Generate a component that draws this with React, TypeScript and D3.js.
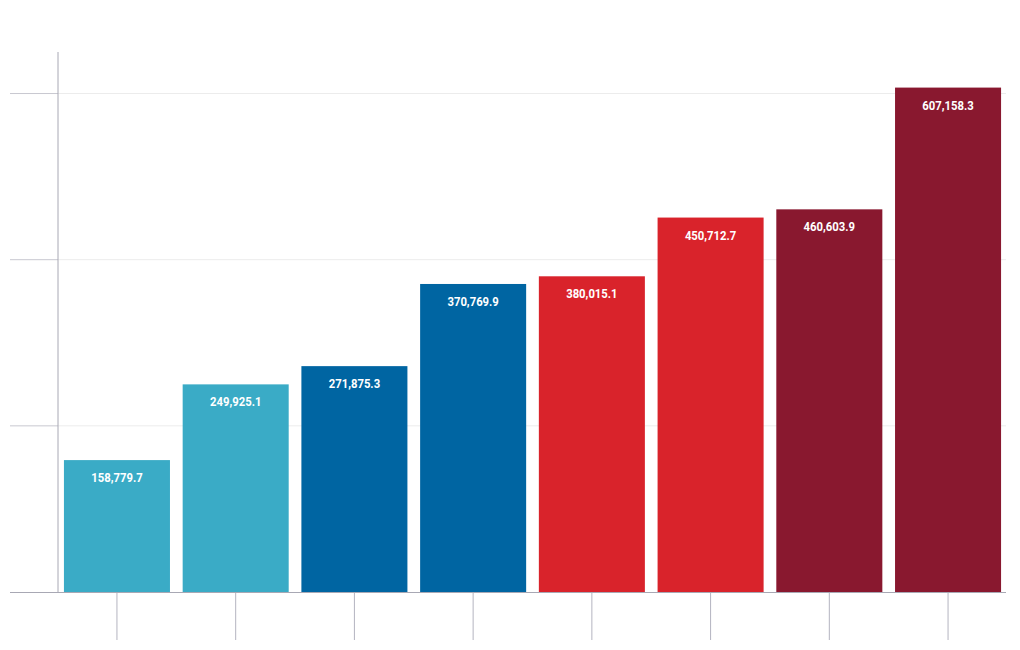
import React from "react";
import * as d3 from "d3";

const categories = ["1", "2", "3", "4", "5", "6", "7", "8"];
const values = [158779.7, 249925.1, 271875.3, 370769.9, 380015.1, 450712.7, 460603.9, 607158.3];
const colors = ["#3aabc6", "#3aabc6", "#0065a2", "#0065a2", "#d9232b", "#d9232b", "#89182f", "#89182f"];
const yTicks = [200000, 400000, 600000];

const W = 1020;
const H = 650;

export default function App() {
  const x = d3.scaleBand<string>().domain(categories).range([58, 1007]).paddingInner(0.107).paddingOuter(0.05);
  const y = d3.scaleLinear().domain([0, 650000]).range([592, 52]);
  const fmt = d3.format(",.1f");
  return (
    <svg width={W} height={H} style={{ position: "absolute", left: 0, top: 0 }}>
      {yTicks.map((t) => (
        <g key={t}>
          <line x1={58} x2={1006} y1={y(t)} y2={y(t)} stroke="#ececec" strokeWidth={1} />
          <line x1={10} x2={58} y1={y(t)} y2={y(t)} stroke="#c8c8d0" strokeWidth={1} />
        </g>
      ))}
      {categories.map((c, i) => (
        <rect key={c} x={x(c)} y={y(values[i])} width={x.bandwidth()} height={y(0) - y(values[i])} fill={colors[i]} />
      ))}
      {categories.map((c, i) => (
        <g key={"l" + c} transform={`translate(${(x(c) as number) + x.bandwidth() / 2},${y(values[i]) + 22}) scale(0.87,1)`}>
          <text
            textAnchor="middle"
            fill="#ffffff"
            fontFamily="Roboto, sans-serif"
            fontWeight="bold"
            fontSize={13}
          >
            {fmt(values[i])}
          </text>
        </g>
      ))}
      {categories.map((c) => (
        <line key={"t" + c} x1={(x(c) as number) + x.bandwidth() / 2} x2={(x(c) as number) + x.bandwidth() / 2} y1={592} y2={640} stroke="#b4b4c0" strokeWidth={1} />
      ))}
      <line x1={58} x2={58} y1={52} y2={592} stroke="#a8a8b4" strokeWidth={1} />
      <line x1={10} x2={1006} y1={592.5} y2={592.5} stroke="#a8a8b4" strokeWidth={1} />
    </svg>
  );
}
